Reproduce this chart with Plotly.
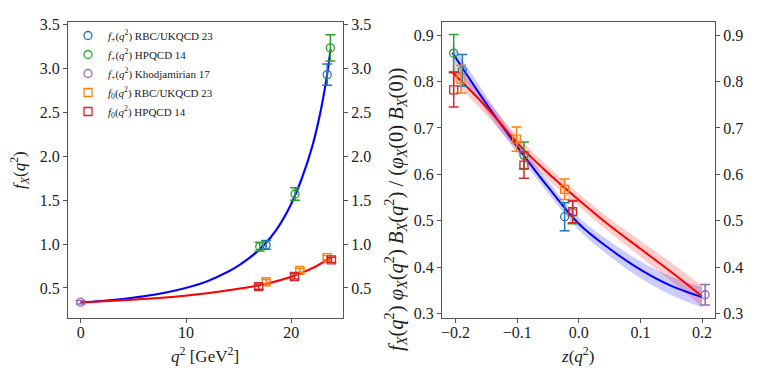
import plotly.graph_objects as go

# ---- left panel: form factors vs q^2 ----
q2_fp_rbc = [17.6, 23.4]
fp_rbc = [0.99, 2.93]
fp_rbc_err = [0.05, 0.12]

q2_fp_hpqcd = [17.0, 20.35, 23.7]
fp_hpqcd = [0.97, 1.57, 3.235]
fp_hpqcd_err = [0.05, 0.07, 0.15]

q2_fp_kh = [0.0]
fp_kh = [0.337]
fp_kh_err = [0.02]

q2_f0_rbc = [17.6, 20.8, 23.4]
f0_rbc = [0.57, 0.70, 0.845]
f0_rbc_err = [0.025, 0.025, 0.025]

q2_f0_hpqcd = [16.9, 20.3, 23.8]
f0_hpqcd = [0.515, 0.63, 0.82]
f0_hpqcd_err = [0.03, 0.03, 0.03]

# fit curves
q2_fp_fit = [0, 2, 4, 6, 8, 10, 12, 14, 15, 16, 17, 18, 19, 20, 21, 22, 22.7, 23.3, 23.73]
fp_fit = [0.335, 0.352, 0.375, 0.405, 0.445, 0.50, 0.575, 0.685, 0.755, 0.84, 0.94, 1.07, 1.24,
          1.46, 1.75, 2.12, 2.47, 2.86, 3.22]
fp_fit_hw = [0.008, 0.009, 0.01, 0.011, 0.012, 0.014, 0.016, 0.019, 0.02, 0.022, 0.025, 0.028,
             0.032, 0.038, 0.045, 0.055, 0.065, 0.08, 0.1]

q2_f0_fit = [0, 4, 8, 12, 15, 17, 19, 20.5, 22, 23, 23.73]
f0_fit = [0.335, 0.36, 0.39, 0.44, 0.49, 0.53, 0.59, 0.65, 0.725, 0.79, 0.835]
f0_fit_hw = [0.008, 0.008, 0.009, 0.01, 0.011, 0.012, 0.013, 0.014, 0.016, 0.018, 0.02]

# ---- right panel: normalised form factors vs z ----
z_fp_rbc = [-0.189, -0.023]
gp_rbc = [0.824, 0.509]
gp_rbc_err = [0.034, 0.03]

z_fp_hpqcd = [-0.203, -0.089, -0.010]
gp_hpqcd = [0.861, 0.641, 0.518]
gp_hpqcd_err = [0.04, 0.029, 0.024]

z_fp_kh = [0.205]
gp_kh = [0.341]
gp_kh_err = [0.022]

z_f0_rbc = [-0.191, -0.101, -0.023]
g0_rbc = [0.805, 0.676, 0.568]
g0_rbc_err = [0.03, 0.026, 0.022]

z_f0_hpqcd = [-0.203, -0.089, -0.010]
g0_hpqcd = [0.782, 0.620, 0.520]
g0_hpqcd_err = [0.037, 0.028, 0.024]

z_fit = [-0.205, -0.15, -0.1, -0.05, 0.0, 0.05, 0.1, 0.15, 0.2]
gp_fit = [0.862, 0.752, 0.66, 0.573, 0.494, 0.44, 0.395, 0.36, 0.336]
gp_fit_hw = [0.019, 0.016, 0.014, 0.013, 0.014, 0.016, 0.018, 0.02, 0.022]
g0_fit = [0.82, 0.745, 0.668, 0.603, 0.545, 0.49, 0.44, 0.39, 0.338]
g0_fit_hw = [0.018, 0.017, 0.015, 0.014, 0.014, 0.015, 0.017, 0.02, 0.022]

FONT = "Liberation Serif"
W, H = 763, 382
OFF = 8  # the page body margin shifts the figure by this many pixels
C_BLUE, C_GREEN, C_PURPLE = "#1f77b4", "#2ca02c", "#9467bd"
C_ORANGE, C_RED = "#ff7f0e", "#d62728"


def px(x):
    return (x - OFF) / W


def py(y):
    return 1 - (y - OFF) / H


fig = go.Figure()


def band(x, y, hw, color, xa, ya):
    lo = [a - b for a, b in zip(y, hw)]
    hi = [a + b for a, b in zip(y, hw)]
    fig.add_trace(go.Scatter(x=x, y=lo, mode="lines", line=dict(width=0, shape="spline"),
                             xaxis=xa, yaxis=ya, showlegend=False, hoverinfo="skip"))
    fig.add_trace(go.Scatter(x=x, y=hi, mode="lines", line=dict(width=0, shape="spline"),
                             fill="tonexty", fillcolor=color, xaxis=xa, yaxis=ya,
                             showlegend=False, hoverinfo="skip"))


def curve(x, y, color, xa, ya):
    fig.add_trace(go.Scatter(x=x, y=y, mode="lines", line=dict(color=color, width=2, shape="spline"),
                             xaxis=xa, yaxis=ya, showlegend=False, hoverinfo="skip"))


def points(x, y, err, color, symbol, name, xa, ya, legend):
    fig.add_trace(go.Scatter(
        x=x, y=y, mode="markers", name=name, xaxis=xa, yaxis=ya, showlegend=legend,
        marker=dict(symbol=symbol, size=8, color=color, line=dict(color=color, width=1.3)),
        error_y=dict(type="data", array=err, color=color, thickness=1.5, width=5)))


# left panel
band(q2_fp_fit, fp_fit, fp_fit_hw, "rgba(0,0,255,0.22)", "x", "y")
band(q2_f0_fit, f0_fit, f0_fit_hw, "rgba(255,0,0,0.22)", "x", "y")
curve(q2_fp_fit, fp_fit, "#0000ff", "x", "y")
curve(q2_f0_fit, f0_fit, "#ff0000", "x", "y")

fp = "<i>f</i><sub>+</sub>(<i>q</i><sup>2</sup>) "
f0 = "<i>f</i><sub>0</sub>(<i>q</i><sup>2</sup>) "
points(q2_fp_rbc, fp_rbc, fp_rbc_err, C_BLUE, "circle-open", fp + "RBC/UKQCD 23", "x", "y", True)
points(q2_fp_hpqcd, fp_hpqcd, fp_hpqcd_err, C_GREEN, "circle-open", fp + "HPQCD 14", "x", "y", True)
points(q2_fp_kh, fp_kh, fp_kh_err, C_PURPLE, "circle-open", fp + "Khodjamirian 17", "x", "y", True)
points(q2_f0_rbc, f0_rbc, f0_rbc_err, C_ORANGE, "square-open", f0 + "RBC/UKQCD 23", "x", "y", True)
points(q2_f0_hpqcd, f0_hpqcd, f0_hpqcd_err, C_RED, "square-open", f0 + "HPQCD 14", "x", "y", True)

# right panel
band(z_fit, gp_fit, gp_fit_hw, "rgba(0,0,255,0.2)", "x2", "y2")
band(z_fit, g0_fit, g0_fit_hw, "rgba(255,0,0,0.2)", "x2", "y2")
curve(z_fit, gp_fit, "#0000ff", "x2", "y2")
curve(z_fit, g0_fit, "#ff0000", "x2", "y2")
points(z_fp_rbc, gp_rbc, gp_rbc_err, C_BLUE, "circle-open", "", "x2", "y2", False)
points(z_fp_hpqcd, gp_hpqcd, gp_hpqcd_err, C_GREEN, "circle-open", "", "x2", "y2", False)
points(z_fp_kh, gp_kh, gp_kh_err, C_PURPLE, "circle-open", "", "x2", "y2", False)
points(z_f0_rbc, g0_rbc, g0_rbc_err, C_ORANGE, "square-open", "", "x2", "y2", False)
points(z_f0_hpqcd, g0_hpqcd, g0_hpqcd_err, C_RED, "square-open", "", "x2", "y2", False)

# dummy traces so the right-hand twin axes get drawn
fig.add_trace(go.Scatter(x=q2_fp_kh, y=fp_kh, mode="none", xaxis="x", yaxis="y3",
                         showlegend=False, hoverinfo="skip"))
fig.add_trace(go.Scatter(x=z_fp_kh, y=gp_kh, mode="none", xaxis="x2", yaxis="y4",
                         showlegend=False, hoverinfo="skip"))

ydom = [py(318), py(22)]
axis_common = dict(showline=True, linecolor="#555", linewidth=1.3, ticks="outside", ticklen=4,
                   tickwidth=1.2, tickcolor="#555", showgrid=False, zeroline=False,
                   automargin=False, tickfont=dict(family=FONT, size=16, color="#222"))

yl_range = [0.157, 3.53]
yr_range = [0.291, 0.928]
fig.update_layout(
    width=W, height=H, margin=dict(l=0, r=0, t=0, b=0, pad=0, autoexpand=False),
    paper_bgcolor="white", plot_bgcolor="white",
    font=dict(family=FONT, color="#222"),
    xaxis=dict(domain=[px(68), px(343)], range=[-1.2, 24.9], tickvals=[0, 10, 20],
               mirror=True, anchor="y", ticklabelstandoff=-4, **axis_common),
    yaxis=dict(domain=ydom, range=yl_range, tickvals=[0.5, 1.0, 1.5, 2.0, 2.5, 3.0, 3.5],
               tickformat=".1f", anchor="x", **axis_common),
    yaxis3=dict(range=yl_range, tickvals=[0.5, 1.0, 1.5, 2.0, 2.5, 3.0, 3.5], tickformat=".1f",
                overlaying="y", side="right", anchor="x", **axis_common),
    xaxis2=dict(domain=[px(442), px(715)], range=[-0.222, 0.221],
                tickvals=[-0.2, -0.1, 0.0, 0.1, 0.2], tickformat=".1f",
                mirror=True, anchor="y2", ticklabelstandoff=-4, **axis_common),
    yaxis2=dict(domain=ydom, range=yr_range, tickvals=[0.3, 0.4, 0.5, 0.6, 0.7, 0.8, 0.9],
                tickformat=".1f", anchor="x2", **axis_common),
    yaxis4=dict(range=yr_range, tickvals=[0.3, 0.4, 0.5, 0.6, 0.7, 0.8, 0.9], tickformat=".1f",
                overlaying="y2", side="right", anchor="x2", **axis_common),
    legend=dict(x=px(68), y=py(21), xanchor="left", yanchor="top", traceorder="normal",
                bgcolor="rgba(0,0,0,0)", font=dict(family=FONT, size=11, color="#222"),
                tracegroupgap=0, itemwidth=30),
)

title_font = dict(family=FONT, size=17, color="#222")
ann = dict(xref="paper", yref="paper", showarrow=False, xanchor="center", yanchor="middle")
fig.add_annotation(text="<i>f<sub>X</sub></i>(<i>q</i><sup>2</sup>)", x=px(20), y=py(170),
                   textangle=-90, font=title_font, **ann)
fig.add_annotation(text="<i>q</i><sup>2</sup> [GeV<sup>2</sup>]", x=px(205), y=py(355),
                   font=title_font, **ann)
fig.add_annotation(
    text="<i>f<sub>X</sub></i>(<i>q</i><sup>2</sup>) <i>φ<sub>X</sub></i>(<i>q</i><sup>2</sup>) "
         "<i>B<sub>X</sub></i>(<i>q</i><sup>2</sup>) / (<i>φ<sub>X</sub></i>(0) <i>B<sub>X</sub></i>(0))",
    x=px(396), y=py(210), textangle=-90, font=dict(family=FONT, size=20.5, color="#222"), **ann)
fig.add_annotation(text="<i>z</i>(<i>q</i><sup>2</sup>)", x=px(577), y=py(355),
                   font=title_font, **ann)

fig.write_html("out.html")
